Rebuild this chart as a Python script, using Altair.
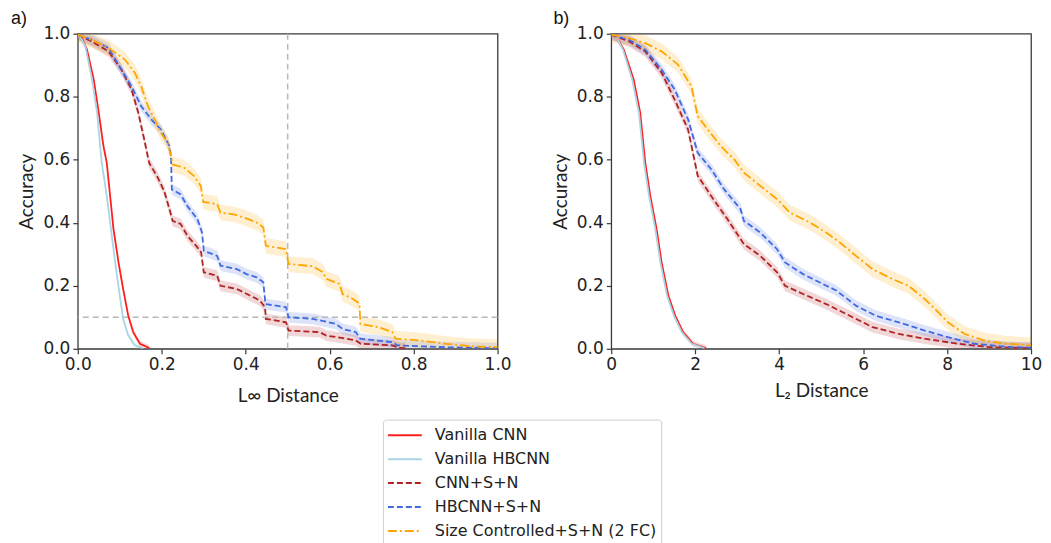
import altair as alt
import pandas as pd

SERIES = ["Vanilla CNN", "Vanilla HBCNN", "CNN+S+N", "HBCNN+S+N", "Size Controlled+S+N (2 FC)"]
COLORS = ["#ff1f1f", "#a9d6e5", "#b22222", "#4169e1", "#ffa500"]
DASHES = [[1, 0], [1, 0], [6, 3], [6, 3], [9, 3, 2, 3]]
BAND_HW = [0.009, 0.009, 0.017, 0.017, 0.025]

# ---- panel a) L-inf distance ----
LINF_VCNN_X = [0, 0.01, 0.022, 0.038, 0.05, 0.061, 0.069, 0.077, 0.085, 0.097, 0.108, 0.12, 0.132, 0.148, 0.171]
LINF_VCNN_Y = [0.997, 0.985, 0.949, 0.854, 0.749, 0.644, 0.591, 0.485, 0.38, 0.274, 0.19, 0.106, 0.053, 0.016,
               0.002]
LINF_VHB_X = [0, 0.008, 0.018, 0.034, 0.046, 0.057, 0.069, 0.081, 0.089, 0.1, 0.108, 0.12, 0.136, 0.156]
LINF_VHB_Y = [0.997, 0.985, 0.96, 0.854, 0.749, 0.591, 0.485, 0.359, 0.274, 0.169, 0.095, 0.043, 0.011, 0.001]
LINF_CNNSN_X = [0, 0.034, 0.073, 0.104, 0.128, 0.144, 0.159, 0.17, 0.19, 0.206, 0.218, 0.226, 0.245, 0.261, 0.285,
                0.294, 0.3, 0.332, 0.34, 0.379, 0.41, 0.434, 0.446, 0.448, 0.496, 0.502, 0.576, 0.592, 0.631, 0.662,
                0.674, 0.749, 0.765, 0.78]
LINF_CNNSN_Y = [0.997, 0.975, 0.944, 0.886, 0.823, 0.75, 0.66, 0.59, 0.545, 0.5, 0.445, 0.406, 0.396, 0.359, 0.322,
                0.306, 0.243, 0.232, 0.2, 0.19, 0.169, 0.153, 0.132, 0.095, 0.084, 0.058, 0.053, 0.042, 0.034, 0.027,
                0.016, 0.011, 0.003, 0.002]
LINF_HBSN_X = [0, 0.034, 0.073, 0.104, 0.128, 0.151, 0.175, 0.198, 0.218, 0.222, 0.224, 0.245, 0.261, 0.285, 0.296,
               0.3, 0.332, 0.34, 0.379, 0.402, 0.426, 0.442, 0.447, 0.496, 0.502, 0.56, 0.615, 0.631, 0.662, 0.673,
               0.749, 0.761, 0.875, 1.0]
LINF_HBSN_Y = [0.997, 0.98, 0.955, 0.886, 0.833, 0.77, 0.728, 0.696, 0.644, 0.612, 0.506, 0.49, 0.453, 0.411, 0.369,
               0.311, 0.295, 0.264, 0.253, 0.237, 0.227, 0.211, 0.142, 0.132, 0.1, 0.095, 0.079, 0.063, 0.053, 0.032,
               0.021, 0.011, 0.005, 0.002]
LINF_SC_X = [0, 0.034, 0.073, 0.112, 0.136, 0.151, 0.167, 0.183, 0.198, 0.214, 0.222, 0.226, 0.253, 0.277, 0.293,
             0.299, 0.332, 0.34, 0.371, 0.395, 0.426, 0.442, 0.448, 0.496, 0.502, 0.56, 0.584, 0.592, 0.623, 0.631,
             0.655, 0.671, 0.673, 0.718, 0.749, 0.757, 0.812, 0.875, 0.938, 1.0]
LINF_SC_Y = [0.997, 0.98, 0.955, 0.918, 0.876, 0.833, 0.77, 0.728, 0.686, 0.654, 0.612, 0.585, 0.575, 0.548, 0.517,
             0.466, 0.459, 0.432, 0.427, 0.417, 0.401, 0.385, 0.327, 0.316, 0.269, 0.262, 0.243, 0.222, 0.206, 0.174,
             0.159, 0.143, 0.079, 0.068, 0.053, 0.032, 0.027, 0.016, 0.008, 0.005]

# ---- panel b) L2 distance ----
L2_VCNN_X = [0, 0.12, 0.3, 0.535, 0.69, 0.81, 0.93, 1.08, 1.2, 1.36, 1.52, 1.71, 1.95, 2.26]
L2_VCNN_Y = [0.997, 0.99, 0.949, 0.854, 0.749, 0.591, 0.485, 0.38, 0.274, 0.169, 0.106, 0.053, 0.016, 0.002]
L2_VHB_X = [0, 0.12, 0.28, 0.5, 0.66, 0.78, 0.9, 1.05, 1.17, 1.33, 1.49, 1.68, 1.92, 2.22]
L2_VHB_Y = [0.997, 0.99, 0.949, 0.854, 0.749, 0.591, 0.485, 0.38, 0.274, 0.169, 0.106, 0.053, 0.016, 0.002]
L2_CNNSN_X = [0, 0.42, 0.81, 1.2, 1.51, 1.83, 2.06, 2.38, 2.77, 3.16, 3.55, 3.95, 4.14, 4.57, 5.12, 5.59, 6.22,
              6.85, 7.47, 8.26, 9.04, 10]
L2_CNNSN_Y = [0.997, 0.976, 0.944, 0.876, 0.791, 0.696, 0.549, 0.485, 0.411, 0.332, 0.295, 0.243, 0.2, 0.174, 0.142,
              0.111, 0.069, 0.047, 0.032, 0.016, 0.005, 0.002]
L2_HBSN_X = [0, 0.42, 0.81, 1.2, 1.51, 1.83, 2.06, 2.38, 2.69, 3.08, 3.16, 3.55, 3.95, 4.14, 4.57, 4.96, 5.36, 5.83,
             6.3, 6.85, 7.47, 8.02, 8.65, 9.44, 10]
L2_HBSN_Y = [0.997, 0.981, 0.949, 0.886, 0.823, 0.728, 0.622, 0.57, 0.506, 0.443, 0.406, 0.369, 0.316, 0.274, 0.237,
             0.211, 0.185, 0.137, 0.105, 0.084, 0.058, 0.037, 0.016, 0.006, 0.004]
L2_SC_X = [0, 0.42, 0.81, 1.2, 1.59, 1.91, 2.06, 2.3, 2.61, 2.93, 3.16, 3.55, 3.95, 4.26, 4.73, 5.12, 5.44, 5.83,
           6.22, 6.69, 7.08, 7.47, 7.79, 8.02, 8.42, 8.89, 9.44, 10]
L2_SC_Y = [0.997, 0.986, 0.97, 0.944, 0.902, 0.833, 0.738, 0.696, 0.643, 0.601, 0.559, 0.517, 0.475, 0.432, 0.401,
           0.369, 0.338, 0.295, 0.253, 0.222, 0.2, 0.158, 0.116, 0.084, 0.047, 0.026, 0.016, 0.011]

REF_X = [0.5]
REF_Y = [0.1]


def build(pairs):
    rows = []
    for s, c, (xs, ys), hw in zip(SERIES, COLORS, pairs, BAND_HW):
        for i, (x, y) in enumerate(zip(xs, ys)):
            rows.append({"series": s, "col": c, "x": x, "y": y, "order": i,
                         "lo": max(0.0, y - hw), "hi": min(1.0, y + hw)})
    return pd.DataFrame(rows)


df_a = build([(LINF_VCNN_X, LINF_VCNN_Y), (LINF_VHB_X, LINF_VHB_Y), (LINF_CNNSN_X, LINF_CNNSN_Y),
              (LINF_HBSN_X, LINF_HBSN_Y), (LINF_SC_X, LINF_SC_Y)])
df_b = build([(L2_VCNN_X, L2_VCNN_Y), (L2_VHB_X, L2_VHB_Y), (L2_CNNSN_X, L2_CNNSN_Y),
              (L2_HBSN_X, L2_HBSN_Y), (L2_SC_X, L2_SC_Y)])

W, H = 421, 316
LEG = alt.Legend(title=None, orient="none", legendX=306, legendY=387, direction="vertical",
                 symbolType="stroke", symbolSize=1156, symbolStrokeWidth=2, labelFont="DejaVu Sans",
                 labelFontSize=16, labelColor="#222", strokeColor="#d0d0d0", padding=4, cornerRadius=3,
                 fillColor="white", rowPadding=0, clipHeight=23.3, labelOffset=12, labelLimit=400)

YTICKS = [0, 0.2, 0.4, 0.6, 0.8, 1.0]


def panel(df, xmax, xtitle, xfmt, title, tdx, title_pad):
    xscale = alt.Scale(domain=[0, xmax], nice=False, zero=False)
    yscale = alt.Scale(domain=[0, 1], nice=False)
    xaxis = alt.Axis(title=xtitle, format=xfmt, values=[xmax * i / 5 for i in range(6)], titlePadding=title_pad)
    yaxis = alt.Axis(title="Accuracy", format=".1f", values=YTICKS, titlePadding=6)
    band = alt.Chart(df).mark_area(opacity=0.18, clip=True).encode(
        x=alt.X("x:Q", scale=xscale, axis=xaxis),
        y=alt.Y("lo:Q", scale=yscale, axis=yaxis),
        y2="hi:Q",
        fill=alt.Fill("col:N", scale=None),
        detail="series:N",
    )
    lines = alt.Chart(df).mark_line(strokeWidth=1.8, clip=True).encode(
        x=alt.X("x:Q", scale=xscale, axis=xaxis),
        y=alt.Y("y:Q", scale=yscale, axis=yaxis),
        stroke=alt.Stroke("series:N", scale=alt.Scale(domain=SERIES, range=COLORS), sort=SERIES, legend=LEG),
        strokeDash=alt.StrokeDash("series:N", scale=alt.Scale(domain=SERIES, range=DASHES), sort=SERIES,
                                  legend=LEG),
        order="order:Q",
    )
    layers = [band, lines]
    if xmax == 1.0:
        vr = alt.Chart(pd.DataFrame({"x": REF_X})).mark_rule(color="#b8b8b8", strokeDash=[6, 4],
                                                             strokeWidth=1.5).encode(x="x:Q")
        hr = alt.Chart(pd.DataFrame({"y": REF_Y})).mark_rule(color="#b8b8b8", strokeDash=[6, 4],
                                                             strokeWidth=1.5).encode(y="y:Q")
        layers = [band, vr, hr, lines]
    return alt.layer(*layers).properties(
        width=W, height=H,
        title=alt.TitleParams(title, anchor="start", frame="bounds", dx=tdx, fontSize=18,
                              font="Liberation Sans", fontWeight="normal", color="#111", offset=-3),
    )


a = panel(df_a, 1.0, "L∞ Distance", ".1f", "a)", -7, 14)
b = panel(df_b, 10, "L₂ Distance", "d", "b)", 2, 9)

chart = alt.hconcat(a, b, spacing=38).properties(
    padding={"left": 2, "top": 0, "right": 0, "bottom": 5}
).configure_view(stroke="#3a3a3a", strokeWidth=1.3).configure_axis(
    domain=False, grid=False, ticks=True, tickSize=5, tickColor="#3a3a3a", tickWidth=1.2,
    labelFont="DejaVu Sans", labelFontSize=17, labelColor="#222", labelPadding=3, labelFlush=False,
    labelOverlap=False, titleFont="Lato", titleFontSize=19, titleFontWeight="normal", titleColor="#222",
)

chart.save("out.html", embed_options={"renderer": "svg", "actions": False})
